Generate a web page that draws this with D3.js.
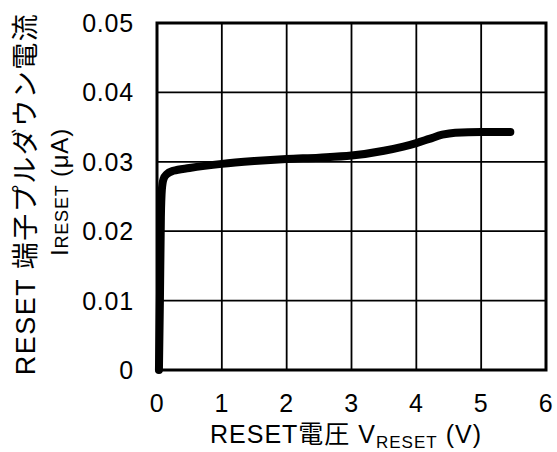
<!DOCTYPE html>
<meta charset="utf-8" />
<script src="https://d3js.org/d3.v7.min.js"></script>
<body style="margin:0;background:#fff">
<svg id="chart" width="557" height="452"></svg>
<script>
/* data ------------------------------------------------------------------- */
const vReset = [0.03, 0.045, 0.06, 0.075, 0.1, 0.15, 0.25, 0.5, 1, 1.5, 2, 2.5, 3, 3.5, 3.8, 4, 4.2, 4.4, 4.6, 5, 5.45];
const iReset = [0, 0.01, 0.022, 0.026, 0.0275, 0.0282, 0.0287, 0.0291, 0.0297, 0.0301, 0.0304, 0.0306,
                0.0309, 0.0316, 0.0322, 0.0327, 0.0333, 0.0339, 0.0342, 0.0343, 0.0343];
const xTicks = [0, 1, 2, 3, 4, 5, 6];
const yTicks = [0, 0.01, 0.02, 0.03, 0.04, 0.05];

/* layout ----------------------------------------------------------------- */
const W=557,H=452,m={top:23,right:11,bottom:82,left:157};
const font="'Liberation Sans',Arial,'Noto Sans CJK JP',sans-serif";
const svg=d3.select("#chart").style("font-family",font).style("letter-spacing","0.8px");

const x=d3.scaleLinear().domain([0,6]).range([m.left,W-m.right]);
const y=d3.scaleLinear().domain([0,0.05]).range([H-m.bottom,m.top]);

/* grid */
svg.append("g").selectAll("line").data(xTicks).join("line")
  .attr("x1",d=>x(d)).attr("x2",d=>x(d)).attr("y1",y(0)).attr("y2",y(0.05))
  .attr("stroke","#000").attr("stroke-width",1.8);
svg.append("g").selectAll("line").data(yTicks).join("line")
  .attr("x1",x(0)).attr("x2",x(6)).attr("y1",d=>y(d)).attr("y2",d=>y(d))
  .attr("stroke","#000").attr("stroke-width",1.8);
svg.append("rect")
  .attr("x",x(0)).attr("y",y(0.05)).attr("width",x(6)-x(0)).attr("height",y(0)-y(0.05))
  .attr("fill","none").attr("stroke","#000").attr("stroke-width",3);

/* tick labels */
svg.append("g").selectAll("text").data(xTicks).join("text")
  .attr("x",d=>x(d)).attr("y",y(0)+42).attr("text-anchor","middle")
  .attr("font-size",25).text(d=>d);
svg.append("g").selectAll("text").data(yTicks).join("text")
  .attr("x",x(0)-23).attr("y",d=>y(d)).attr("dy","0.36em").attr("text-anchor","end")
  .attr("font-size",25).text(d=>d===0?"0":d.toFixed(2));

/* curve */
const pts=vReset.map((v,i)=>[v,iReset[i]]);
svg.append("path").datum(pts)
  .attr("d",d3.line().x(d=>x(d[0])).y(d=>y(d[1])).curve(d3.curveMonotoneX))
  .attr("fill","none").attr("stroke","#000").attr("stroke-width",8)
  .attr("stroke-linecap","round").attr("stroke-linejoin","round");

/* axis titles */
const xt=svg.append("text").attr("x",346).attr("y",443)
  .attr("text-anchor","middle").attr("font-size",25).style("letter-spacing","1px");
xt.append("tspan").text("RESET電圧 V");
xt.append("tspan").attr("font-size",17).attr("dy",5).text("RESET");
xt.append("tspan").attr("dy",-5).text(" (V)");

svg.append("text").attr("transform","translate(35,194) rotate(-90)")
  .attr("text-anchor","middle").attr("font-size",27).style("letter-spacing","1.5px")
  .text("RESET 端子プルダウン電流");
const yt=svg.append("text").attr("transform","translate(68,192) rotate(-90)")
  .attr("text-anchor","middle").attr("font-size",24);
yt.append("tspan").text("I");
yt.append("tspan").attr("font-size",18).text("RESET");
yt.append("tspan").text(" (μA)");
</script>
</body>
